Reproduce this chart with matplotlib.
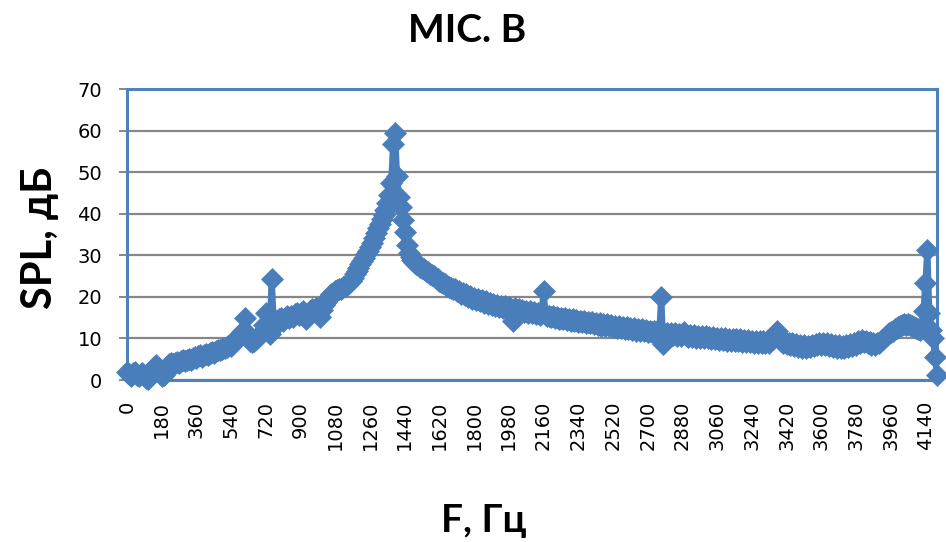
import numpy as np
import matplotlib
matplotlib.use("Agg")
import matplotlib.pyplot as plt

# Frequency grid (Hz) and measured sound pressure level (dB) for microphone B
freq_hz = np.arange(0, 4201, 10)
spl_db = [
    2.0, 1.4, 1.0, 1.6, 2.0, 1.3, 0.9, 1.4, 1.8, 1.2,          # 0-90
    0.6, 0.3, 1.0, 2.2, 3.2, 3.6, 2.8, 1.8, 1.0, 1.2,          # 100-190
    2.0, 3.2, 3.8, 4.0, 3.8, 4.2, 4.4, 4.1, 4.5, 4.7,          # 200-290
    4.5, 4.9, 5.1, 4.8, 5.2, 5.5, 5.3, 5.7, 5.9, 5.6,          # 300-390
    6.0, 6.3, 6.1, 6.5, 6.8, 6.6, 7.0, 7.3, 7.1, 7.5,          # 400-490
    7.8, 7.6, 8.0, 8.4, 8.2, 8.8, 9.3, 9.9, 10.6, 11.3,        # 500-590
    11.8, 14.8, 11.2, 10.2, 9.5, 9.1, 9.4, 9.9, 10.4, 10.9,    # 600-690
    11.6, 13.2, 16.0, 13.0, 11.0, 24.3, 14.6, 13.2, 13.9, 14.6,  # 700-790
    15.0, 14.2, 14.8, 15.3, 14.9, 15.5, 15.1, 15.8, 16.1, 15.6,  # 800-890
    16.2, 16.6, 15.9, 14.6, 15.8, 16.7, 17.1, 16.9, 17.4, 17.0,  # 900-990
    15.2, 16.8, 18.0, 18.8, 19.5, 20.2, 20.6, 21.0, 21.3, 21.6,  # 1000-1090
    21.8, 22.0, 22.3, 22.5, 22.8, 23.3, 23.9, 24.6, 25.4, 26.2,  # 1100-1190
    27.0, 27.8, 28.6, 29.4, 30.2, 31.0, 32.0, 33.0, 34.2, 35.4,  # 1200-1290
    36.5, 37.6, 38.7, 39.8, 41.0, 42.5, 44.5, 47.3, 56.8, 59.5,  # 1300-1390
    49.0, 44.0, 41.5, 38.5, 35.5, 32.5, 30.5, 29.5, 28.8, 28.3,  # 1400-1490
    28.0, 27.6, 27.3, 27.0, 26.6, 26.2, 25.9, 25.6, 25.2, 24.9,  # 1500-1590
    24.6, 24.2, 23.9, 23.6, 23.3, 23.0, 22.7, 22.4, 22.1, 21.8,  # 1600-1690
    21.8, 21.3, 21.4, 20.8, 20.9, 20.4, 20.6, 20.0, 20.2, 19.6,  # 1700-1790
    19.8, 19.3, 19.5, 18.9, 19.2, 18.6, 18.9, 18.3, 18.6, 18.0,  # 1800-1890
    18.3, 17.8, 18.1, 17.5, 17.9, 17.3, 17.7, 17.1, 17.5, 17.0,  # 1900-1990
    14.2, 17.2, 16.8, 17.1, 16.6, 16.9, 16.4, 16.7, 16.2, 16.5,  # 2000-2090
    16.0, 16.3, 15.8, 16.1, 15.7, 16.0, 21.4, 15.6, 15.3, 15.5,  # 2100-2190
    15.1, 15.3, 14.9, 15.2, 14.7, 15.0, 14.6, 14.9, 14.4, 14.7,  # 2200-2290
    14.3, 14.6, 14.1, 14.5, 14.0, 14.3, 13.9, 14.2, 13.7, 14.0,  # 2300-2390
    13.6, 13.9, 13.4, 13.8, 13.3, 13.6, 13.1, 13.5, 13.0, 13.4,  # 2400-2490
    12.9, 13.2, 12.8, 13.1, 12.6, 13.0, 12.5, 12.8, 12.3, 12.7,  # 2500-2590
    12.2, 12.6, 12.0, 12.4, 11.9, 12.3, 11.8, 12.2, 11.7, 12.0,  # 2600-2690
    11.6, 11.9, 11.5, 11.8, 11.3, 11.7, 11.2, 20.0, 8.6, 11.0,   # 2700-2790
    11.4, 10.9, 11.3, 10.8, 11.2, 10.7, 11.1, 10.6, 11.0, 11.6,  # 2800-2890
    10.9, 10.4, 10.8, 10.3, 10.8, 10.2, 10.7, 10.1, 10.6, 10.0,  # 2900-2990
    10.5, 10.0, 10.4, 9.9, 10.3, 9.8, 10.2, 9.7, 10.1, 9.6,      # 3000-3090
    10.0, 9.5, 9.9, 9.4, 9.8, 9.4, 9.9, 9.3, 9.8, 9.2,           # 3100-3190
    9.7, 9.2, 9.6, 9.1, 9.5, 9.0, 9.4, 8.9, 9.3, 8.8,            # 3200-3290
    9.3, 8.9, 9.4, 9.0, 9.6, 9.9, 10.5, 11.8, 10.2, 9.3,         # 3300-3390
    8.9, 9.2, 8.6, 9.0, 8.4, 8.8, 8.2, 8.6, 8.0, 8.4,            # 3400-3490
    7.8, 8.3, 7.6, 8.2, 7.9, 8.5, 8.1, 8.7, 8.3, 8.9,            # 3500-3590
    8.5, 9.0, 8.4, 8.8, 8.1, 8.6, 7.9, 8.4, 7.8, 8.3,            # 3600-3690
    7.7, 8.2, 7.6, 8.3, 7.9, 8.6, 8.2, 8.9, 8.5, 9.3,            # 3700-3790
    9.0, 9.6, 9.1, 9.5, 8.8, 9.2, 8.5, 8.9, 8.3, 8.8,            # 3800-3890
    9.0, 9.5, 9.9, 10.4, 10.8, 11.2, 11.6, 11.9, 12.2, 12.5,     # 3900-3990
    12.8, 13.0, 13.2, 13.4, 13.3, 13.5, 13.2, 13.0, 12.7, 12.5,  # 4000-4090
    12.2, 12.0, 12.8, 16.5, 23.3, 31.3, 16.0, 12.0, 10.0, 5.5,   # 4100-4190
    1.2,                                                          # 4200
]

# Category labels shown every 180 Hz
tick_freqs = freq_hz[::18]
tick_labels = [str(f) for f in tick_freqs]
y_ticks = [0, 10, 20, 30, 40, 50, 60, 70]

title_text = "MIC. B"
x_label = "F, Гц"
y_label = "SPL, дБ"

series_color = "#4A7EBB"
frame_color = "#4F81BD"
grid_color = "#878787"

fig = plt.figure(figsize=(9.46, 5.42), dpi=100)
ax = fig.add_axes([127 / 946, 1 - 380 / 542, 810 / 946, 291 / 542])

ax.set_xlim(freq_hz[0], freq_hz[-1])
ax.set_ylim(0, 70)

ax.yaxis.grid(True, color=grid_color, linewidth=1.6, zorder=1)
ax.set_axisbelow(True)

ax.plot(freq_hz, spl_db, color=series_color, linewidth=4.5,
        marker="D", markersize=11, markerfacecolor=series_color,
        markeredgecolor=series_color, markeredgewidth=0.5,
        clip_on=False, zorder=3)

for side in ["left", "right", "top", "bottom"]:
    ax.spines[side].set_color(frame_color)
    ax.spines[side].set_linewidth(2.2)

ax.set_yticks(y_ticks)
ax.set_yticklabels([str(v) for v in y_ticks], fontfamily="DejaVu Sans",
                   fontsize=14)
ax.tick_params(axis="y", direction="out", length=6, width=1.4,
               color=grid_color, pad=12)

ax.set_xticks(tick_freqs)
ax.set_xticklabels(tick_labels, rotation=90, fontfamily="DejaVu Sans",
                   fontsize=14, va="top", ha="center")
ax.tick_params(axis="x", length=0, pad=15)

bold_family = ["Lato", "DejaVu Sans"]
fig.text(467 / 946, 1 - 31 / 542, title_text, ha="center", va="center",
         fontsize=28, fontweight="bold", family=bold_family)
fig.text(40 / 946, 1 - 238 / 542, y_label, ha="center", va="center",
         rotation=90, fontsize=30, fontweight="bold", family=bold_family)
fig.text(484 / 946, 1 - 521 / 542, x_label, ha="center", va="center",
         fontsize=28, fontweight="bold", family=bold_family)

fig.savefig("out.png", dpi=100)
